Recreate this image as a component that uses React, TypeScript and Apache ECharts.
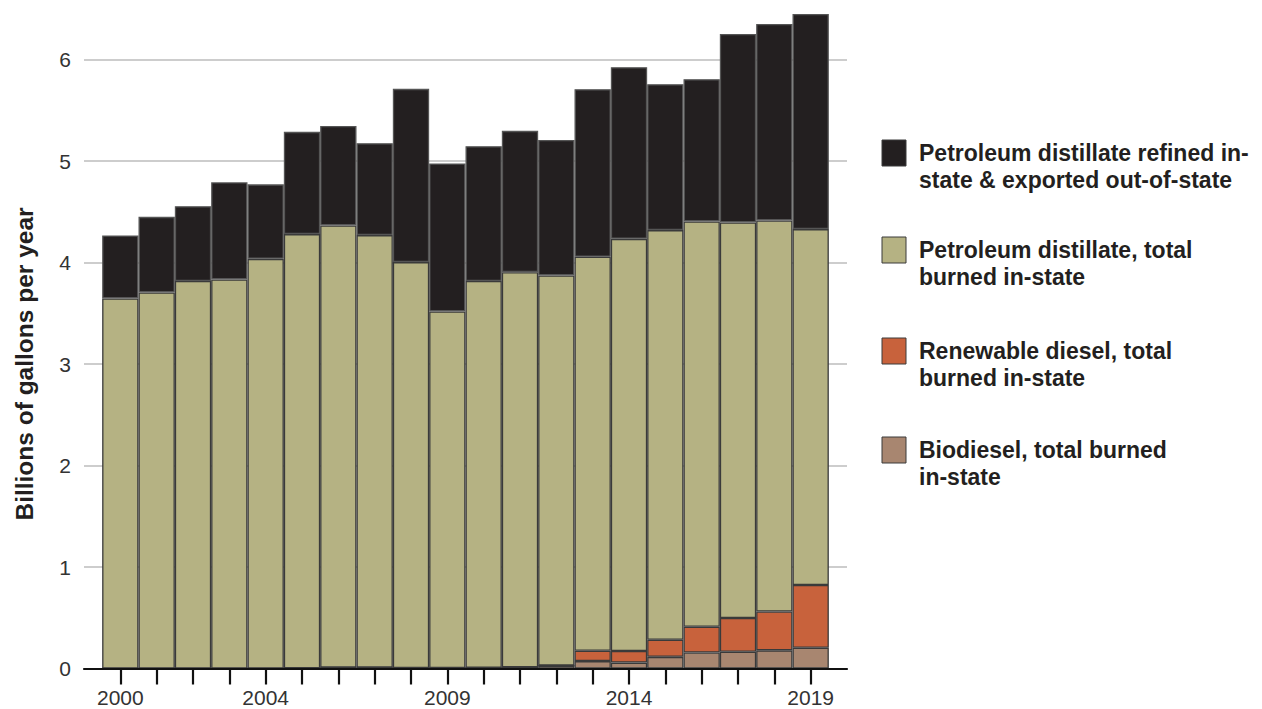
import React, { useEffect, useRef } from "react";
import * as echarts from "echarts";

const years = ["2000", "2001", "2002", "2003", "2004", "2005", "2006", "2007", "2008", "2009", "2010", "2011", "2012", "2013", "2014", "2015", "2016", "2017", "2018", "2019"];
const labelYears = ["2000", "2004", "2009", "2014", "2019"];

const biodiesel = [0, 0, 0, 0, 0, 0.003, 0.01, 0.01, 0.005, 0.005, 0.008, 0.012, 0.028, 0.073, 0.058, 0.115, 0.157, 0.165, 0.179, 0.205];
const renewable = [0, 0, 0, 0, 0, 0, 0, 0, 0, 0, 0, 0, 0, 0.102, 0.115, 0.168, 0.255, 0.332, 0.382, 0.618];
const petroleumBurned = [3.646, 3.705, 3.817, 3.833, 4.036, 4.277, 4.355, 4.26, 3.999, 3.513, 3.809, 3.893, 3.845, 3.881, 4.06, 4.036, 3.993, 3.898, 3.853, 3.506];
const exported = [0.621, 0.745, 0.738, 0.957, 0.734, 1.007, 0.981, 0.906, 1.707, 1.458, 1.329, 1.392, 1.335, 1.652, 1.691, 1.438, 1.401, 1.857, 1.936, 2.12];

const seriesNames = [
  "Biodiesel, total burned in-state",
  "Renewable diesel, total burned in-state",
  "Petroleum distillate, total burned in-state",
  "Petroleum distillate refined in-state & exported out-of-state",
];
const legendLabels = [
  "Petroleum distillate refined in-\nstate & exported out-of-state",
  "Petroleum distillate, total\nburned in-state",
  "Renewable diesel, total\nburned in-state",
  "Biodiesel, total burned\nin-state",
];
const colors = ["#a88670", "#c8623c", "#b5b283", "#231f20"];
const legendColors = ["#231f20", "#b5b283", "#c8623c", "#a88670"];
const legendTops = [140, 237, 338, 437];

export default function App() {
  const ref = useRef<HTMLDivElement>(null);
  useEffect(() => {
    if (!ref.current) return;
    const chart = echarts.init(ref.current, undefined, { renderer: "svg" });
    const seriesData = [biodiesel, renewable, petroleumBurned, exported];
    const font = "'Liberation Sans', Arial, Helvetica, sans-serif";

    // outer plot frame (gridlines, axis line) spans one extra half-band beyond the bars on each side
    const outerLeft = 84;
    const outerRight = 415;
    const outerWidth = 1262 - outerLeft - outerRight;
    const pad = outerWidth / (years.length + 1) / 2;
    const top = 59.5;
    const bottom = 40.5;

    const graphics: any[] = [];
    legendLabels.forEach((lab, i) => {
      graphics.push({
        type: "rect",
        shape: { x: 882, y: legendTops[i], width: 24, height: 26 },
        style: { fill: legendColors[i], stroke: "#3a3a3a", lineWidth: 1 },
      });
      graphics.push({
        type: "text",
        x: 919,
        y: legendTops[i] - 0.5,
        style: {
          text: lab,
          fill: "#231f20",
          font: `bold 23px ${font}`,
          lineHeight: 27,
          verticalAlign: "top",
          align: "left",
        },
      });
    });

    chart.setOption({
      animation: false,
      backgroundColor: "#ffffff",
      grid: [
        { left: outerLeft, right: outerRight, top, bottom, containLabel: false },
        { left: outerLeft + pad, right: outerRight + pad, top, bottom, containLabel: false },
      ],
      xAxis: [
        {
          gridIndex: 0,
          type: "value",
          min: 0,
          max: 1,
          axisLine: { show: true, lineStyle: { color: "#111", width: 2.2 } },
          axisTick: { show: false },
          axisLabel: { show: false },
          splitLine: { show: false },
          z: 5,
        },
        {
          gridIndex: 1,
          type: "category",
          data: years,
          boundaryGap: true,
          axisLine: { show: false },
          axisTick: { show: true, interval: 0, alignWithLabel: true, length: 16, lineStyle: { color: "#111", width: 2.2 } },
          axisLabel: {
            interval: (_i: number, v: string) => labelYears.includes(v),
            fontSize: 21,
            color: "#333",
            fontFamily: font,
            margin: 18,
          },
          splitLine: { show: false },
        },
      ],
      yAxis: [
        {
          gridIndex: 0,
          type: "value",
          min: 0,
          max: 6,
          interval: 1,
          name: "Billions of gallons per year",
          nameLocation: "middle",
          nameGap: 47,
          nameTextStyle: { fontSize: 24.5, fontWeight: "bold", color: "#231f20", fontFamily: font },
          axisLine: { show: false },
          axisTick: { show: false },
          axisLabel: { fontSize: 21, color: "#333", fontFamily: font, margin: 13 },
          splitLine: { show: true, lineStyle: { color: "#bdbdbd", width: 1.5 } },
        },
        {
          gridIndex: 1,
          type: "value",
          min: 0,
          max: 6,
          interval: 1,
          show: false,
          splitLine: { show: false },
        },
      ],
      series: seriesData.map((arr, i) => ({
        type: "bar",
        name: seriesNames[i],
        xAxisIndex: 1,
        yAxisIndex: 1,
        stack: "total",
        clip: false,
        barCategoryGap: "0%",
        data: arr,
        itemStyle: { color: colors[i], borderColor: i === 3 ? "#555" : "#3a3a3a", borderWidth: 1.3 },
        z: 2,
      })),
      graphic: graphics,
    });
    return () => chart.dispose();
  }, []);
  return <div ref={ref} style={{ position: "fixed", left: 0, top: 0, width: 1262, height: 709 }} />;
}
